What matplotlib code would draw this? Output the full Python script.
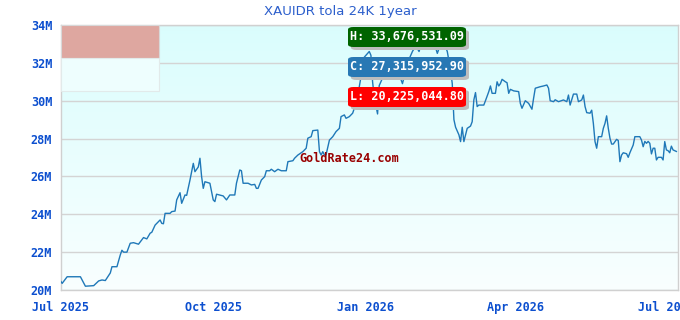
import numpy as np
import pandas as pd
import matplotlib
matplotlib.use("Agg")
import matplotlib.pyplot as plt
import matplotlib.dates as mdates
from matplotlib.patches import FancyBboxPatch, Rectangle

title = "XAUIDR tola 24K 1year"
start_date = "2025-07-01"
day_offsets = [0, 1, 4, 12, 15, 20, 23, 25, 27, 30, 31, 34, 36, 37, 38, 40, 42, 44, 47, 50,
               52, 54, 55, 57, 60, 61, 62, 63, 66, 67, 69, 70, 72, 73, 75, 76, 78, 80, 81, 83,
               84, 85, 86, 87, 90, 92, 93, 94, 98, 100, 102, 105, 106, 108, 109, 110, 113, 115, 117, 118,
               119, 121, 123, 124, 126, 127, 129, 131, 133, 136, 137, 140, 141, 143, 146, 148, 149, 151, 152, 155,
               156, 157, 158, 159, 160, 162, 164, 166, 168, 169, 171, 172, 174, 176, 177, 178, 180, 182, 183, 186,
               187, 188, 189, 191, 192, 194, 196, 198, 201, 204, 206, 208, 210, 212, 214, 216, 218, 221, 223, 225,
               227, 229, 230, 233, 235, 236, 237, 238, 240, 241, 242, 243, 245, 247, 248, 249, 250, 251, 252, 255,
               256, 258, 259, 260, 262, 263, 264, 265, 266, 268, 269, 270, 271, 273, 276, 277, 278, 280, 282, 284,
               285, 286, 289, 291, 293, 294, 295, 297, 298, 300, 303, 305, 306, 307, 309, 311, 312, 314, 315, 316,
               317, 319, 320, 321, 322, 323, 324, 326, 327, 328, 329, 330, 331, 332, 333, 335, 336, 337, 338, 339,
               341, 342, 343, 345, 346, 349, 350, 351, 352, 353, 354, 355, 356, 357, 358, 359, 360, 362, 363, 364,
               365, 366, 367, 368, 369, 371]
prices_m = [20.48, 20.35, 20.7, 20.7, 20.2, 20.23, 20.48, 20.53, 20.5, 20.9, 21.23, 21.23, 21.85, 22.1, 22.0, 22.0, 22.47, 22.5, 22.42, 22.77,
            22.7, 23.0, 23.05, 23.43, 23.7, 23.52, 23.5, 24.05, 24.05, 24.14, 24.17, 24.76, 25.14, 24.58, 25.02, 25.0, 25.81, 26.69, 26.25, 26.5,
            26.96, 25.99, 25.37, 25.72, 25.64, 24.76, 24.67, 25.06, 24.97, 24.76, 25.02, 25.02, 25.64, 26.34, 26.3, 25.64, 25.64, 25.55, 25.58, 25.37,
            25.37, 25.81, 25.99, 26.3, 26.3, 26.38, 26.25, 26.38, 26.3, 26.3, 26.78, 26.83, 26.96, 27.13, 27.31, 27.49, 28.02, 28.1, 28.42, 28.45,
            27.31, 27.13, 27.31, 27.13, 27.15, 27.92, 28.1, 28.37, 28.54, 29.16, 29.25, 29.07, 29.16, 29.34, 29.6, 30.2, 30.74, 31.8, 32.3, 32.6,
            32.4, 31.0, 30.2, 29.3, 30.8, 31.2, 31.5, 31.7, 31.5, 31.4, 30.9, 31.6, 32.2, 32.6, 32.9, 32.6, 33.2, 33.0, 33.68, 33.1,
            32.5, 33.0, 33.3, 32.6, 31.6, 30.9, 29.0, 28.6, 28.2, 27.84, 28.6, 27.84, 28.54, 28.66, 28.89, 30.04, 30.43, 29.69, 29.77, 29.77,
            30.0, 30.48, 30.78, 30.39, 30.39, 31.0, 30.78, 30.9, 31.13, 31.0, 30.95, 30.39, 30.6, 30.52, 30.48, 29.86, 29.6, 30.0, 29.86, 29.55,
            30.13, 30.66, 30.74, 30.78, 30.83, 30.66, 30.0, 29.95, 30.05, 29.95, 30.04, 29.95, 30.3, 29.77, 30.35, 30.35, 29.95, 30.04, 30.3, 29.69,
            29.37, 29.34, 29.5, 28.8, 27.84, 27.49, 28.1, 28.1, 28.54, 28.8, 29.2, 28.54, 28.02, 27.71, 27.71, 27.96, 27.9, 26.78, 27.13, 27.25,
            27.2, 27.01, 27.25, 27.66, 28.1, 28.1, 27.92, 27.57, 27.85, 27.75, 27.85, 27.75, 27.19, 27.49, 27.49, 26.87, 27.01, 27.01, 26.87, 27.84,
            27.4, 27.36, 27.25, 27.6, 27.4, 27.32]
y_ticks_m = [20, 22, 24, 26, 28, 30, 32, 34]
y_tick_labels = ["20M", "22M", "24M", "26M", "28M", "30M", "32M", "34M"]
x_tick_dates = ["2025-07-01", "2025-10-01", "2026-01-01", "2026-04-01", "2026-07-01"]
x_tick_labels = ["Jul 2025", "Oct 2025", "Jan 2026", "Apr 2026", "Jul 2026"]
stat_labels = ["H: 33,676,531.09", "C: 27,315,952.90", "L: 20,225,044.80"]
stat_colors = ["#006400", "#2878b4", "#ff0000"]
watermark = "GoldRate24.com"

dates = pd.Timestamp(start_date) + pd.to_timedelta(day_offsets, unit="D")
values = np.array(prices_m) * 1e6

W, H = 680, 320
fig = plt.figure(figsize=(W / 100, H / 100), dpi=100)
ax = fig.add_axes([60.5 / W, 1 - 290 / H, (678 - 60.5) / W, (290 - 25) / H])

x0 = mdates.date2num(pd.Timestamp(start_date))
x1 = x0 + (678 - 60.5) / 1.66
ax.set_xlim(x0, x1)

# gradient background (light cyan at top fading to near white at bottom)
grad = np.linspace(0, 1, 256).reshape(-1, 1)
top = np.array([0.855, 0.992, 0.992])
bot = np.array([0.975, 1.0, 1.0])
img = top[None, None, :] * (1 - grad[:, :, None]) + bot[None, None, :] * grad[:, :, None]
ax.imshow(img, extent=[x0, x1, 20e6, 34e6], origin="upper", aspect="auto", zorder=0)
ax.set_xlim(x0, x1)
ax.set_ylim(20e6, 34e6)

for v in y_ticks_m:
    ax.axhline(v * 1e6, color="#d4d4d4", lw=1, zorder=1)

ax.plot(dates, values, color="#1f78b8", lw=1.0, zorder=3)

for s in ax.spines.values():
    s.set_color("#d0d0d0")
    s.set_linewidth(1)

ax.set_yticks([v * 1e6 for v in y_ticks_m])
ax.set_yticklabels(y_tick_labels)
ax.set_xticks([mdates.date2num(pd.Timestamp(d)) for d in x_tick_dates])
ax.set_xticklabels(x_tick_labels)
ax.tick_params(length=0, pad=6, labelcolor="#0c4fcf")
for lab in ax.get_yticklabels() + ax.get_xticklabels():
    lab.set_fontfamily("DejaVu Sans Mono")
    lab.set_fontweight("bold")
    lab.set_fontsize(8.5)
ax.tick_params(axis="x", pad=8)

fig.text(0.5, 1 - 12 / H, title, ha="center", va="center", color="#2c5fcc",
         fontsize=9.5, family="DejaVu Sans")

# legend-like boxes top left
ax.add_patch(Rectangle((61 / W, 1 - 58 / H), (159 - 61) / W, 33 / H, transform=fig.transFigure,
                       facecolor="#dea7a0", edgecolor="#d8d8d8", lw=0.8, zorder=4))
ax.add_patch(Rectangle((61 / W, 1 - 91 / H), (159 - 61) / W, 33 / H, transform=fig.transFigure,
                       facecolor="#eefefe", edgecolor="#e2eaea", lw=0.8, zorder=4))

# stat labels
box_tops = [27, 57, 87]
for lab, col, yt in zip(stat_labels, stat_colors, box_tops):
    bx, bw, bh = 348, 118, 20
    shadow = FancyBboxPatch(((bx + 3) / W, 1 - (yt + bh + 3) / H), bw / W, bh / H,
                            boxstyle="round,pad=0,rounding_size=0.008", transform=fig.transFigure,
                            facecolor="#bdbdbd", edgecolor="none", zorder=5)
    fig.patches.append(shadow)
    box = FancyBboxPatch((bx / W, 1 - (yt + bh) / H), bw / W, bh / H,
                         boxstyle="round,pad=0,rounding_size=0.008", transform=fig.transFigure,
                         facecolor=col, edgecolor="none", zorder=6)
    fig.patches.append(box)
    fig.text((bx + bw / 2) / W, 1 - (yt + bh / 2) / H, lab, ha="center", va="center",
             color="white", fontsize=8.5, fontweight="bold", family="DejaVu Sans Mono", zorder=7)

fig.text(349 / W, 1 - 158 / H, watermark, ha="center", va="center", color="#990000",
         fontsize=8.5, fontweight="bold", family="DejaVu Sans Mono", zorder=8)

fig.savefig("out.png", dpi=100, facecolor="white")
